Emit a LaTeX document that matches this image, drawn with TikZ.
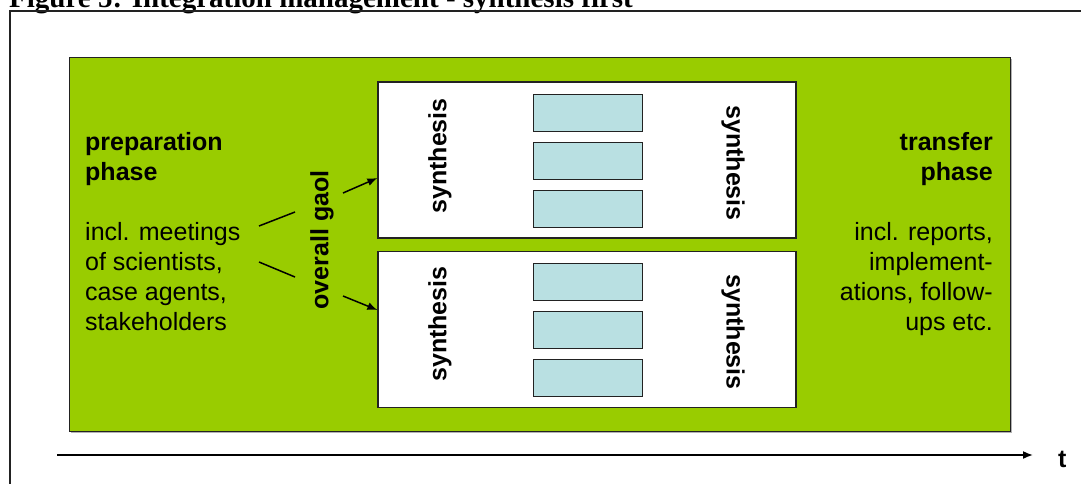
\documentclass[tikz,border=0pt]{standalone}
\usepackage{fontspec}
\setmainfont{Liberation Sans}
\newfontfamily\titlefont{Liberation Serif}
\usetikzlibrary{arrows.meta}
\definecolor{phasegreen}{HTML}{99CC00}
\definecolor{taskblue}{HTML}{B9E0E2}
\definecolor{edgegray}{HTML}{222222}
\tikzset{
  txt/.style={inner sep=0pt, font=\fontsize{25}{30}\selectfont},
  bold/.style={inner sep=0pt, font=\fontsize{25}{30}\selectfont\bfseries},
  workbox/.style={draw=edgegray, line width=1.2pt, fill=white, minimum width=418pt, minimum height=156pt, inner sep=0pt},
  taskbox/.style={draw=edgegray, line width=1pt, fill=taskblue, minimum width=109pt, minimum height=37pt, inner sep=0pt},
}
\begin{document}
\begin{tikzpicture}[x=1pt, y=-1pt, >={Latex[length=10pt, width=8pt]}]
  \useasboundingbox (0,0) rectangle (1081,483);
  \clip (0,0) rectangle (1081,483);
  \node [anchor=base west, inner sep=0pt, font=\titlefont\bfseries\fontsize{29}{34}\selectfont] (title) at (9,7) {Figure 5: Integration management - synthesis first};
  \draw [edgegray, line width=1.2pt] (10,11) rectangle (1200,600);
  % green phase area with its shadow
  \fill [gray!60] (71,59) rectangle (1012,433);
  \node [draw=edgegray, fill=phasegreen, line width=1pt, minimum width=941pt, minimum height=374pt, inner sep=0pt] (phase) at (539.5,244) {};
  \node [workbox] (top) at (587,160) {};
  \node [workbox] (bottom) at (587,329.5) {};
  \node [taskbox] (task1) at (587.5,112.5) {};
  \node [taskbox] (task2) at (587.5,160.5) {};
  \node [taskbox] (task3) at (587.5,209) {};
  \node [taskbox] (task4) at (587.5,281.5) {};
  \node [taskbox] (task5) at (587.5,329.5) {};
  \node [taskbox] (task6) at (587.5,378) {};
  \node [bold, rotate=90] (syn1) at (440,156) {synthesis};
  \node [bold, rotate=-90] (syn2) at (733,163) {synthesis};
  \node [bold, rotate=90] (syn3) at (440,324) {synthesis};
  \node [bold, rotate=-90] (syn4) at (733,332) {synthesis};
  \node [bold, rotate=90] (goal) at (322,240) {overall gaol};
  \node [txt, anchor=north west, align=left] (prep) at (85,132) {\textbf{preparation}\\\textbf{phase}\\[30pt]incl. meetings\\of scientists,\\case agents,\\stakeholders};
  \node [txt, anchor=north east, align=right] (transfer) at (993,132) {\textbf{transfer}\\\textbf{phase}\\[30pt]incl. reports,\\implement-\\ations, follow-\\ups etc.};
  \node [bold, anchor=base west] (time) at (1058,467) {t};
  \coordinate (p1) at (259,226);
  \coordinate (p2) at (295,212);
  \coordinate (p3) at (259,262);
  \coordinate (p4) at (295,277);
  \coordinate (a1) at (343,193);
  \coordinate (a2) at (343,296);
  \coordinate (t0) at (57,455);
  \coordinate (t1) at (1033,455);
  \draw [line width=1.5pt] (p1) -- (p2);
  \draw [line width=1.5pt] (p3) -- (p4);
  \draw [->, line width=1.5pt] (a1) -- (top.west |- 0,178);
  \draw [->, line width=1.5pt] (a2) -- (bottom.west |- 0,310);
  \draw [->, line width=1.6pt] (t0) -- (t1);
\end{tikzpicture}
\end{document}
